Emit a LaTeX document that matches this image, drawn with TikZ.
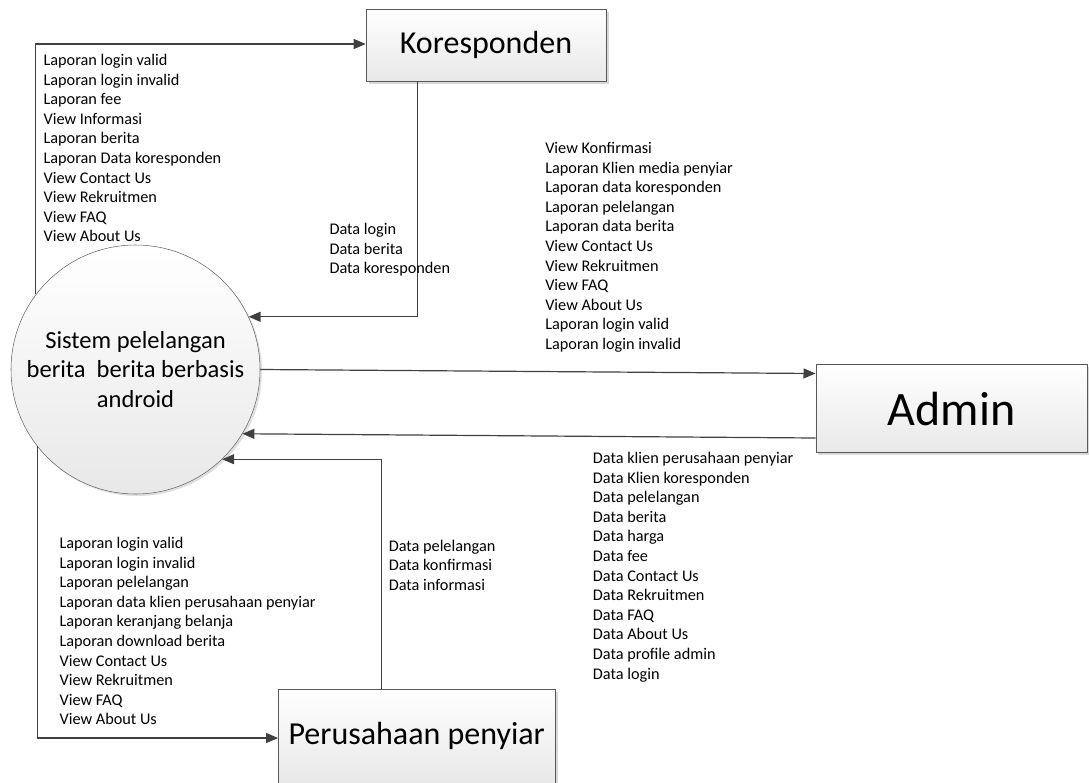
\documentclass[tikz,border=0pt]{standalone}
\usepackage{fontspec}
\setmainfont{Carlito}
\usepackage{tikz}
\usetikzlibrary{positioning,shapes,arrows.meta,shadows,calc}

\begin{document}
\begin{tikzpicture}[
    x=0.75pt, y=-0.75pt,
    font=\fontsize{12.2}{14.7}\selectfont,
    box/.style={
        rectangle, draw=black!65, thin,
        top color=white, bottom color=black!9,
        drop shadow={shadow xshift=2pt, shadow yshift=-2pt, fill=black!30},
        align=center, inner sep=0pt
    },
    proc/.style={
        circle, draw=black!60, thin,
        top color=white, bottom color=black!9,
        drop shadow={shadow xshift=1.5pt, shadow yshift=-1.5pt, fill=black!25},
        minimum size=186.75pt, inner sep=0pt, align=center,
        font=\fontsize{18.4}{22.2}\selectfont
    },
    flow/.style={anchor=north west, inner sep=0pt, align=left},
    arrow/.style={-{Triangle[length=9pt, width=7.5pt]}, line width=0.9pt, black!75}
]
\useasboundingbox (0,0) rectangle (1089,782);

\node[proc] (sistem) at (135.5,369.5) {Sistem pelelangan\\berita\ \ berita berbasis\\android};
\node[box, minimum width=180pt, minimum height=54pt,
      font=\fontsize{24}{28}\selectfont] (koresponden) at (486,45) {Koresponden};
\node[box, minimum width=203.6pt, minimum height=66.3pt,
      font=\fontsize{36}{40}\selectfont] (admin) at (951.5,408.5) {Admin};
\node[box, minimum width=207.5pt, minimum height=70.5pt,
      font=\fontsize{24}{28}\selectfont] (perusahaan) at (416.7,736) {Perusahaan penyiar};

% aliran data
\draw[arrow] (sistem.143.8) |- ($(koresponden.west)+(0,-1)$);
\draw[arrow] ($(koresponden.south west)+(51.5,0)$) |- (sistem.25.5);
\draw[arrow] (sistem.east) -- ($(admin.west)+(0,-35)$);
\draw[arrow] ($(admin.west)+(0,29.5)$) -- (sistem.-31);
\draw[arrow] ($(perusahaan.north west)+(103,0)$) |- (sistem.-46.6);
\draw[arrow] (sistem.218) |- ($(perusahaan.west)+(0,2)$);

\node[flow] (keKor) at (43.3,54) {Laporan login valid\\Laporan login invalid\\Laporan fee\\View Informasi\\Laporan berita\\Laporan Data koresponden\\View Contact Us\\View Rekruitmen\\View FAQ\\View About Us};
\node[flow] (dariKor) at (329.3,223) {Data login\\Data berita\\Data koresponden};
\node[flow] (keAdmin) at (545,142) {View Konfirmasi\\Laporan Klien media penyiar\\Laporan data koresponden\\Laporan pelelangan\\Laporan data berita\\View Contact Us\\View Rekruitmen\\View FAQ\\View About Us\\Laporan login valid\\Laporan login invalid};
\node[flow] (dariAdmin) at (592.7,452) {Data klien perusahaan penyiar\\Data Klien koresponden\\Data pelelangan\\Data berita\\Data harga\\Data fee\\Data Contact Us\\Data Rekruitmen\\Data FAQ\\Data About Us\\Data profile admin\\Data login};
\node[flow] (kePer) at (59.3,537) {Laporan login valid\\Laporan login invalid\\Laporan pelelangan\\Laporan data klien perusahaan penyiar\\Laporan keranjang belanja\\Laporan download berita\\View Contact Us\\View Rekruitmen\\View FAQ\\View About Us};
\node[flow] (dariPer) at (388.5,539.5) {Data pelelangan\\Data konfirmasi\\Data informasi};

\end{tikzpicture}
\end{document}
